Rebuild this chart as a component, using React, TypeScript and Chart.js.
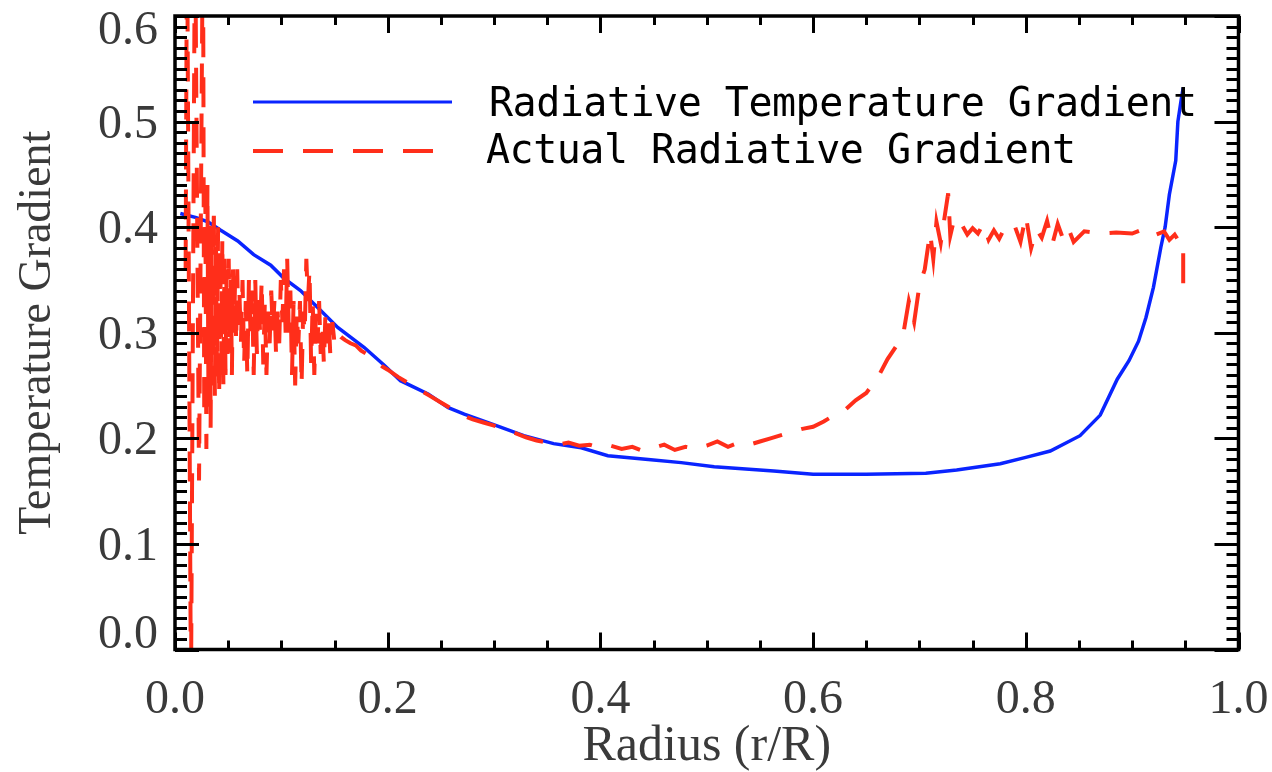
import { useEffect, useRef } from 'react';
import { Chart, registerables } from 'chart.js';

Chart.register(...registerables);

// Radiative temperature gradient (smooth model curve)
const radiusModel = [
  0.005, 0.02, 0.031, 0.043, 0.059, 0.074, 0.09, 0.102, 0.118, 0.137, 0.153, 0.178,
  0.197, 0.212, 0.238, 0.257, 0.272, 0.297, 0.328, 0.356, 0.382, 0.407, 0.445, 0.476,
  0.507, 0.563, 0.6, 0.65, 0.706, 0.735, 0.776, 0.8, 0.823, 0.851, 0.87, 0.886,
  0.897, 0.906, 0.913, 0.92, 0.927, 0.931, 0.935, 0.941, 0.943, 0.946, 0.948,
];
const gradModel = [
  0.413, 0.409, 0.405, 0.397, 0.387, 0.374, 0.364, 0.352, 0.34, 0.321, 0.305, 0.286,
  0.269, 0.2546, 0.242, 0.229, 0.223, 0.214, 0.2025, 0.195, 0.191, 0.1836, 0.18, 0.177,
  0.173, 0.169, 0.166, 0.166, 0.167, 0.17, 0.176, 0.182, 0.188, 0.2025, 0.222, 0.256,
  0.2735, 0.292, 0.3145, 0.343, 0.381, 0.4, 0.431, 0.463, 0.5, 0.52, 0.532,
];

// Actual radiative gradient (noisy measured curve)
const radiusActual = [
  0.01, 0.0113, 0.015, 0.0188, 0.0226, 0.0263,
  0.0275, 0.0285, 0.0295, 0.0305, 0.0315, 0.0325, 0.0335, 0.0345, 0.0355, 0.0365, 0.0375, 0.0385,
  0.0395, 0.0405, 0.0415, 0.0425, 0.0435, 0.0445, 0.0455, 0.0465, 0.0475, 0.0485, 0.0495, 0.0505,
  0.0515, 0.0525, 0.0535, 0.0545, 0.0555, 0.0565, 0.0575, 0.0585, 0.0595,
  0.0605, 0.062, 0.0635, 0.065, 0.0665, 0.068, 0.0695, 0.071, 0.0725, 0.074, 0.0755, 0.077,
  0.0785, 0.08, 0.0815, 0.083, 0.0845, 0.086, 0.0875, 0.089, 0.0905, 0.092, 0.0935, 0.095,
  0.0965, 0.098, 0.0995, 0.101, 0.1025, 0.104, 0.1055, 0.107, 0.1085, 0.11, 0.1115, 0.113,
  0.1145, 0.116, 0.1175, 0.119, 0.1205, 0.122, 0.1235, 0.125, 0.1265, 0.128, 0.1295, 0.131,
  0.1325, 0.134, 0.1355, 0.137, 0.1385, 0.14, 0.1415, 0.143, 0.1445, 0.146, 0.148, 0.15,
  0.153, 0.156, 0.16, 0.165, 0.17, 0.175,
  0.18, 0.185, 0.19, 0.195, 0.2, 0.21, 0.22, 0.23, 0.24, 0.25, 0.26, 0.27,
  0.28, 0.29, 0.3, 0.31, 0.32, 0.33, 0.34, 0.35, 0.36, 0.37, 0.38, 0.39,
  0.4, 0.41, 0.42, 0.43, 0.44, 0.45, 0.46, 0.47, 0.48, 0.49, 0.5, 0.51,
  0.52, 0.53, 0.54, 0.55, 0.56, 0.57, 0.58, 0.59, 0.6, 0.61, 0.62, 0.63,
  0.64, 0.65, 0.66, 0.67, 0.68, 0.685, 0.69, 0.695, 0.7, 0.705, 0.71, 0.713,
  0.716, 0.72, 0.724, 0.727, 0.729, 0.732, 0.735, 0.74, 0.745, 0.75, 0.755, 0.76,
  0.765, 0.77, 0.775, 0.78, 0.785, 0.79, 0.795, 0.8, 0.805, 0.81, 0.815, 0.82,
  0.825, 0.83, 0.835, 0.84, 0.845, 0.855, 0.87, 0.885, 0.9, 0.91, 0.92, 0.93,
  0.935, 0.94, 0.945, 0.948, 0.948,
];
const gradActual = [
  0.36, 0.7, -0.05, 0.7, 0.16, 0.7,
  0.22, 0.43, 0.19, 0.44, 0.23, 0.41, 0.21, 0.4, 0.25, 0.42, 0.24, 0.39,
  0.26, 0.4, 0.24, 0.38, 0.27, 0.39, 0.25, 0.37, 0.26, 0.36, 0.28, 0.37,
  0.29, 0.35, 0.26, 0.36, 0.3, 0.35, 0.29, 0.36, 0.31,
  0.34, 0.29, 0.35, 0.27, 0.33, 0.26, 0.35, 0.3, 0.34, 0.26, 0.35, 0.28,
  0.34, 0.3, 0.35, 0.27, 0.33, 0.26, 0.32, 0.29, 0.34, 0.3, 0.33, 0.28,
  0.32, 0.29, 0.35, 0.31, 0.36, 0.3, 0.37, 0.3, 0.34, 0.26, 0.33, 0.25,
  0.32, 0.29, 0.33, 0.25, 0.32, 0.3, 0.37, 0.33, 0.36, 0.27, 0.33, 0.26,
  0.32, 0.29, 0.33, 0.28, 0.31, 0.27, 0.32, 0.29, 0.315, 0.28, 0.31, 0.29,
  0.3, 0.296, 0.293, 0.29, 0.288, 0.283,
  0.28, 0.276, 0.272, 0.268, 0.265, 0.258, 0.252, 0.246, 0.24, 0.234, 0.228, 0.222,
  0.218, 0.215, 0.212, 0.208, 0.205, 0.201, 0.198, 0.196, 0.194, 0.196, 0.193, 0.194,
  0.191, 0.193, 0.19, 0.192, 0.188, 0.191, 0.194, 0.189, 0.192, 0.19, 0.193, 0.197,
  0.192, 0.196, 0.194, 0.197, 0.2, 0.203, 0.206, 0.209, 0.211, 0.216, 0.222, 0.227,
  0.236, 0.243, 0.256, 0.275, 0.29, 0.3, 0.33, 0.31, 0.345, 0.36, 0.395, 0.37,
  0.405, 0.385, 0.412, 0.432, 0.392, 0.405, 0.398, 0.402, 0.393, 0.399, 0.394, 0.403,
  0.388, 0.397, 0.389, 0.399, 0.395, 0.4, 0.386, 0.411, 0.38, 0.398, 0.39, 0.406,
  0.384, 0.403, 0.389, 0.399, 0.386, 0.396, 0.394, 0.395, 0.394, 0.398, 0.392, 0.396,
  0.388, 0.393, 0.385, 0.386, 0.34,
];

const xLabelValues = [0, 0.2, 0.4, 0.6, 0.8, 1.0];
const yLabelValues = [0, 0.1, 0.2, 0.3, 0.4, 0.5, 0.6];
const seriesNames = ['Radiative Temperature Gradient', 'Actual Radiative Gradient'];
const xTitle = 'Radius (r/R)';
const yTitle = 'Temperature Gradient';

const BLUE = '#0a24ff';
const RED = '#ff2e1a';
const TEXT = '#3a3a3a';
const SERIF = '"Liberation Serif", "Times New Roman", serif';
const DASH = [30, 20];

const framePlugin = {
  id: 'idlFrame',
  afterDatasetsDraw(chart: any) {
    const { ctx, chartArea } = chart;
    const xs = chart.scales.x;
    const ys = chart.scales.y;
    const { left, right, top, bottom } = chartArea;
    ctx.save();
    ctx.strokeStyle = '#000';
    ctx.lineCap = 'butt';

    // inward tick marks on all four sides
    ctx.lineWidth = 3;
    for (let i = 0; i <= 20; i++) {
      const px = Math.round(xs.getPixelForValue(i / 20)) + 0.5;
      const len = i % 4 === 0 ? 17 : 9;
      ctx.beginPath();
      ctx.moveTo(px, bottom);
      ctx.lineTo(px, bottom - len);
      ctx.moveTo(px, top);
      ctx.lineTo(px, top + len);
      ctx.stroke();
    }
    for (let i = 0; i <= 60; i++) {
      const py = Math.round(ys.getPixelForValue(i / 100)) + 0.5;
      const len = i % 10 === 0 ? 24 : 12;
      ctx.beginPath();
      ctx.moveTo(left, py);
      ctx.lineTo(left + len, py);
      ctx.moveTo(right, py);
      ctx.lineTo(right - len, py);
      ctx.stroke();
    }

    // plot frame
    ctx.lineWidth = 3.5;
    ctx.strokeRect(left, top, right - left, bottom - top);

    // tick labels
    ctx.fillStyle = TEXT;
    ctx.font = `48px ${SERIF}`;
    ctx.textAlign = 'center';
    ctx.textBaseline = 'alphabetic';
    for (const v of xLabelValues) {
      ctx.fillText(v.toFixed(1), xs.getPixelForValue(v), bottom + 63);
    }
    ctx.textAlign = 'right';
    for (const v of yLabelValues) {
      const label = v.toFixed(1);
      const asc = ctx.measureText(label).actualBoundingBoxAscent;
      const py = ys.getPixelForValue(v);
      let base = py + asc / 2;
      if (v === yLabelValues[0]) base = py - 2;
      if (v === yLabelValues[yLabelValues.length - 1]) base = py + asc - 4;
      ctx.fillText(label, left - 17, base);
    }

    // legend
    ctx.lineWidth = 3;
    ctx.strokeStyle = BLUE;
    ctx.beginPath();
    ctx.moveTo(253, 102);
    ctx.lineTo(452, 102);
    ctx.stroke();
    ctx.lineWidth = 4;
    ctx.strokeStyle = RED;
    ctx.setLineDash(DASH);
    ctx.beginPath();
    ctx.moveTo(253, 151);
    ctx.lineTo(433, 151);
    ctx.stroke();
    ctx.setLineDash([]);

    ctx.fillStyle = '#000';
    ctx.font = '40px "DejaVu Sans Mono", monospace';
    (ctx as any).letterSpacing = '-0.5px';
    ctx.textAlign = 'left';
    ctx.fillText(seriesNames[0], 489, 116);
    ctx.fillText(seriesNames[1], 486, 163);
    ctx.restore();
  },
};

export default function App() {
  const canvasRef = useRef<HTMLCanvasElement | null>(null);

  useEffect(() => {
    const canvas = canvasRef.current;
    if (!canvas) return;
    const modelPoints = radiusModel.map((r, i) => ({ x: r, y: gradModel[i] }));
    const actualPoints = radiusActual.map((r, i) => ({ x: r, y: gradActual[i] }));

    const chart = new Chart(canvas, {
      type: 'line',
      data: {
        datasets: [
          {
            label: seriesNames[1],
            data: actualPoints,
            borderColor: RED,
            borderWidth: 4,
            borderDash: DASH,
            pointRadius: 0,
            tension: 0,
            fill: false,
            clip: 0,
          },
          {
            label: seriesNames[0],
            data: modelPoints,
            borderColor: BLUE,
            borderWidth: 3.5,
            pointRadius: 0,
            tension: 0,
            fill: false,
            clip: 0,
          },
        ],
      },
      options: {
        responsive: false,
        animation: false,
        devicePixelRatio: 1,
        layout: { padding: { top: 16, right: 33.5, left: 0, bottom: 0 } },
        plugins: {
          legend: { display: false },
          tooltip: { enabled: false },
        },
        scales: {
          x: {
            type: 'linear',
            min: 0,
            max: 1,
            ticks: { display: false },
            grid: { display: false, drawTicks: false },
            border: { display: false },
            title: {
              display: true,
              text: xTitle,
              color: TEXT,
              font: { family: SERIF, size: 50, lineHeight: 1 },
              padding: { top: 0, bottom: 0 },
            },
            afterFit(scale: any) {
              scale.height = 122.5;
            },
          },
          y: {
            type: 'linear',
            min: 0,
            max: 0.6,
            ticks: { display: false },
            grid: { display: false, drawTicks: false },
            border: { display: false },
            title: {
              display: true,
              text: yTitle,
              color: TEXT,
              font: { family: SERIF, size: 46, lineHeight: 1 },
              padding: { top: 15, bottom: 0 },
            },
            afterFit(scale: any) {
              scale.width = 175;
            },
          },
        },
      },
      plugins: [framePlugin],
    });

    return () => chart.destroy();
  }, []);

  return (
    <div style={{ position: 'fixed', left: 0, top: 0, width: 1272, height: 772, background: '#fff' }}>
      <canvas ref={canvasRef} width={1272} height={772} style={{ display: 'block' }} />
    </div>
  );
}
